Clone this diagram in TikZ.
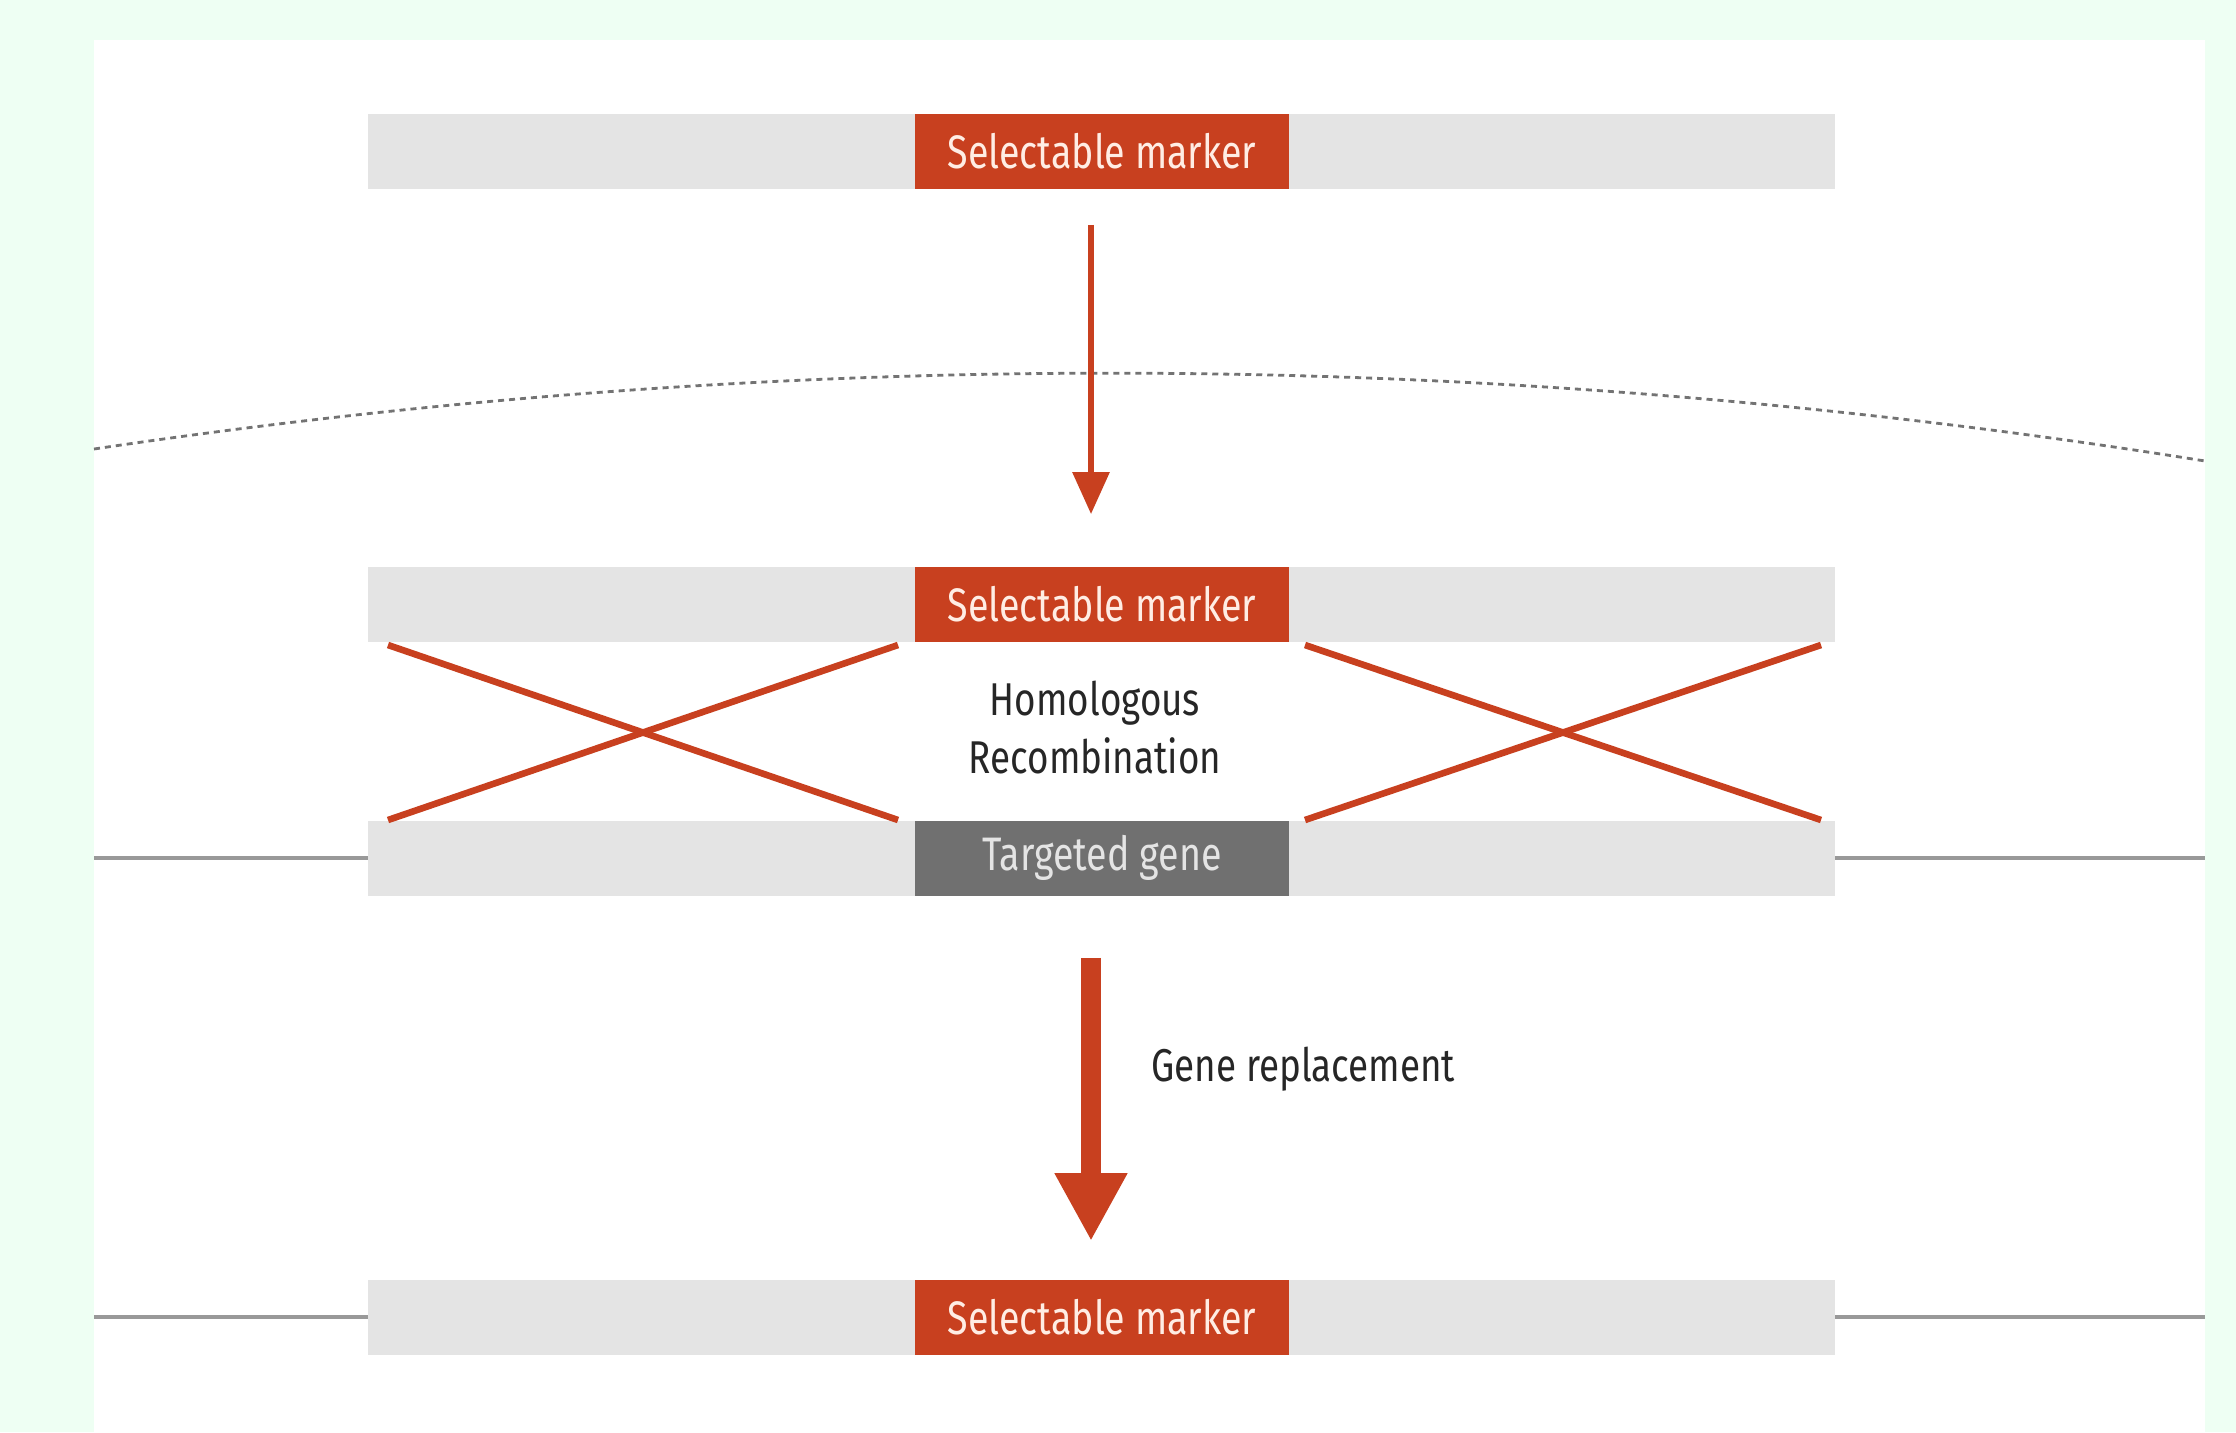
\documentclass[tikz,border=0pt]{standalone}
\usepackage{fontspec}
\setmainfont[FakeStretch=0.8]{Fira Sans}
\usetikzlibrary{arrows.meta,calc}
\definecolor{mint}{HTML}{EEFFF3}
\definecolor{mred}{HTML}{C8401F}
\definecolor{barg}{HTML}{E4E4E4}
\definecolor{dgray}{HTML}{707070}
\definecolor{lgray}{HTML}{999999}
\definecolor{peach}{HTML}{FFEDE4}
\tikzset{
  bar/.style={fill=barg, draw=none, minimum width=733.5pt, minimum height=37.5pt, inner sep=0pt},
  redbox/.style={fill=mred, draw=none, minimum width=187pt, minimum height=37.5pt, inner sep=0pt, text=peach, font=\fontsize{23.5}{26}\selectfont},
  genebox/.style={fill=dgray, draw=none, minimum width=187pt, minimum height=37.5pt, inner sep=0pt, text=barg, font=\fontsize{23.5}{26}\selectfont},
  lbl/.style={text=black!85, font=\fontsize{23}{29}\selectfont, inner sep=0pt},
  cross/.style={draw=mred, line width=3.3pt},
  chrom/.style={draw=lgray, line width=2pt},
  thinarrow/.style={draw=mred, line width=3pt, -{Triangle[length=21pt,width=18pt]}},
  fatarrow/.style={draw=mred, line width=10pt, -{Triangle[length=34pt,width=34pt]}},
}
\begin{document}
\begin{tikzpicture}[x=0.5pt,y=-0.5pt]
\useasboundingbox[fill=mint] (0,0) rectangle (2236,1432);
\fill[white] (94,40) rectangle (2205,1432);
% chromosome line ends
\coordinate (L1) at (94,858);
\coordinate (R1) at (2205,858);
\coordinate (L2) at (94,1317);
\coordinate (R2) at (2205,1317);
% dashed membrane arc
\draw[lgray!75!black, line width=1.4pt, dash pattern=on 3pt off 2.5pt] (94,449) .. controls (798,344) and (1502,348) .. (2205,461);
% bars
\node[bar] (b1) at (1101.5,151) {};
\node[redbox] (m1) at (1102,151) {Selectable marker};
\node[bar] (b2) at (1101.5,604) {};
\node[redbox] (m2) at (1102,604) {Selectable marker};
\node[bar] (b3) at (1101.5,858) {};
\node[genebox] (g3) at (1102,858) {Targeted gene};
\node[bar] (b4) at (1101.5,1317) {};
\node[redbox] (m4) at (1102,1317) {Selectable marker};
\draw[chrom] (L1) -- (b3.west);
\draw[chrom] (b3.east) -- (R1);
\draw[chrom] (L2) -- (b4.west);
\draw[chrom] (b4.east) -- (R2);
% crosses
\draw[cross] (388,645) -- (898,820);
\draw[cross] (388,820) -- (898,645);
\draw[cross] (1305,645) -- (1821,820);
\draw[cross] (1305,820) -- (1821,645);
% labels
\node[lbl, align=center] (hr) at (1095,728) {Homologous\\Recombination};
\node[lbl, anchor=west] (gr) at (1151,1069) {Gene replacement};
% arrows
\draw[thinarrow, shorten <=18pt, shorten >=26pt] ([xshift=-5.5pt]m1.south) -- ([xshift=-5.5pt]m2.north);
\draw[fatarrow, shorten <=31pt, shorten >=19pt] ([xshift=-5.5pt]g3.south) -- ([xshift=-5.5pt]m4.north);
\end{tikzpicture}
\end{document}
